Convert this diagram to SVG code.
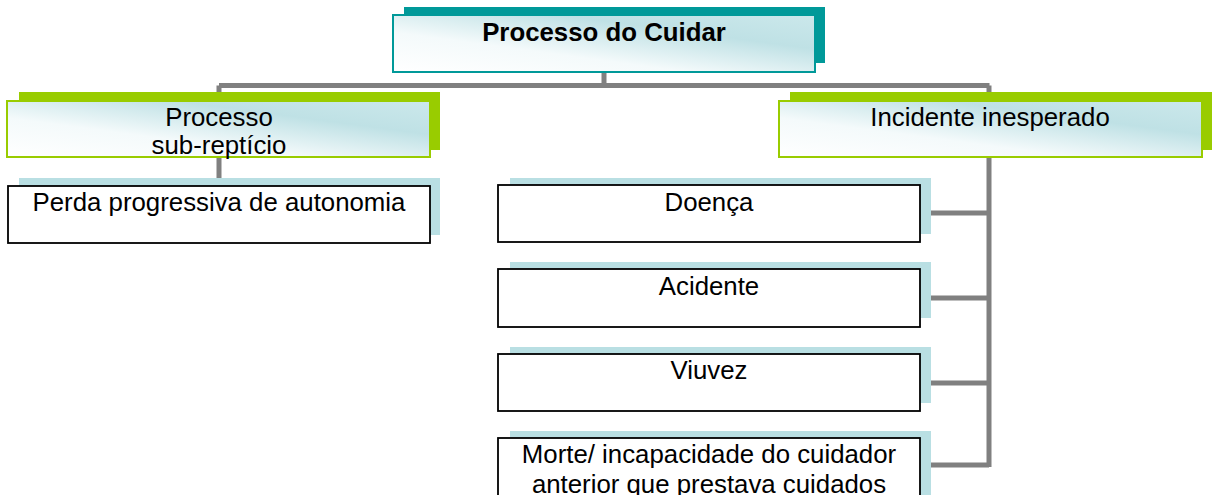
<svg xmlns="http://www.w3.org/2000/svg" width="1213" height="495" viewBox="0 0 1213 495">
<defs>
<linearGradient id="g" x1="0" y1="1" x2="1" y2="0">
<stop offset="0" stop-color="#ffffff"/>
<stop offset="0.35" stop-color="#f4fafb"/>
<stop offset="0.7" stop-color="#bfe1e5"/>
<stop offset="1" stop-color="#cbe8eb"/>
</linearGradient>
<style>
text{font-family:"Liberation Sans",Arial,sans-serif;font-size:25.8px;fill:#000;text-anchor:middle}
.b{font-weight:bold}
.tsh{fill:#009999}
.tbox{fill:url(#g);stroke:#009999;stroke-width:2}
.gsh{fill:#99cc00}
.gbox{fill:url(#g);stroke:#99cc00;stroke-width:2}
.bsh{fill:#b9dfe3}
.wbox{fill:#fff;stroke:#000;stroke-width:1.8}
.con{fill:none;stroke:#808080;stroke-width:5}
</style>
</defs>
<rect width="1213" height="495" fill="#fff"/>
<g id="connectors">
<path class="con" d="M604 72V85.5M219 85.5H989.5M219 85.5V178M989 85.5V467M920 213H989M920 298H989M920 383H989M920 465H989"/>
</g>
<g id="n-root">
<rect class="tsh" x="404" y="7" width="421" height="56"/>
<rect class="tbox" x="393" y="15" width="422" height="57"/>
<text class="b" x="604" y="41">Processo do Cuidar</text>
</g>
<g id="n-processo">
<rect class="gsh" x="19" y="92" width="421" height="58"/>
<rect class="gbox" x="7" y="101" width="423" height="56"/>
<text x="219" y="126">Processo</text>
<text x="219" y="154">sub-reptício</text>
</g>
<g id="n-perda">
<rect class="bsh" x="19" y="178" width="421" height="57"/>
<rect class="wbox" x="8" y="186" width="422" height="57"/>
<text x="219" y="211">Perda progressiva de autonomia</text>
</g>
<g id="n-incidente">
<rect class="gsh" x="790" y="92" width="422" height="58"/>
<rect class="gbox" x="779" y="101" width="423" height="56"/>
<text x="990" y="126">Incidente inesperado</text>
</g>
<g id="n-doenca">
<rect class="bsh" x="510" y="178" width="421" height="56"/>
<rect class="wbox" x="498" y="185" width="422" height="57"/>
<text x="709" y="211">Doença</text>
</g>
<g id="n-acidente">
<rect class="bsh" x="510" y="262" width="421" height="56"/>
<rect class="wbox" x="498" y="269" width="422" height="58"/>
<text x="709" y="295">Acidente</text>
</g>
<g id="n-viuvez">
<rect class="bsh" x="510" y="347" width="421" height="56"/>
<rect class="wbox" x="498" y="354" width="422" height="57"/>
<text x="709" y="379">Viuvez</text>
</g>
<g id="n-morte">
<rect class="bsh" x="510" y="431" width="421" height="70"/>
<rect class="wbox" x="498" y="438" width="422" height="70"/>
<text x="709" y="463">Morte/ incapacidade do cuidador</text>
<text x="709" y="493">anterior que prestava cuidados</text>
</g>
</svg>
